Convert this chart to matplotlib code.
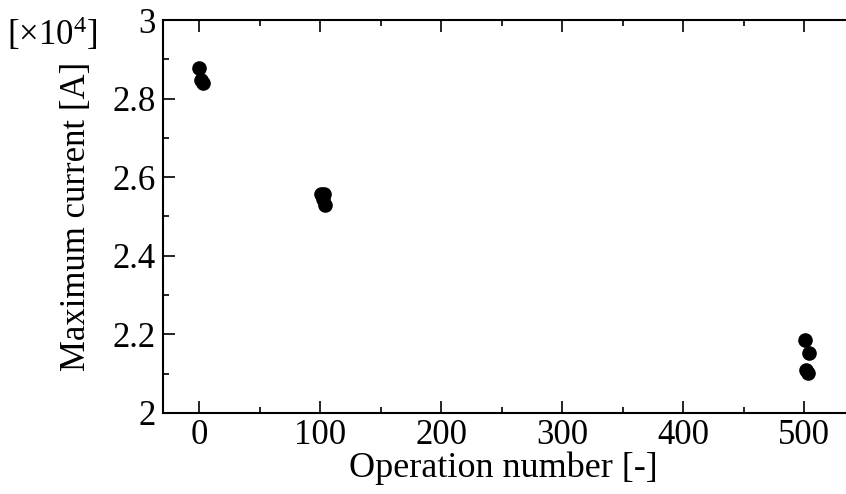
import matplotlib
matplotlib.use("Agg")
import matplotlib.pyplot as plt
from matplotlib.ticker import MultipleLocator, FormatStrFormatter

plt.rcParams['font.family'] = ['Liberation Serif', 'DejaVu Serif']
plt.rcParams['mathtext.fontset'] = 'custom'
plt.rcParams['mathtext.rm'] = 'Liberation Serif'
plt.rcParams['mathtext.default'] = 'regular'

# operation number and maximum current [x10^4 A]
op_num = [0, 1, 3, 101, 103, 102, 104, 501, 504, 502, 503]
i_max = [2.877, 2.848, 2.840, 2.556, 2.558, 2.545, 2.530, 2.185, 2.152, 2.109, 2.101]

fig = plt.figure(figsize=(8.46, 4.94), dpi=100)
ax = fig.add_axes([0.1927, 0.164, 0.822, 0.7955])

ax.plot(op_num, i_max, 'o', color='black', markersize=9.5, clip_on=False)

ax.set_xlim(-30, 545)
ax.set_ylim(2, 3)
ax.xaxis.set_major_locator(MultipleLocator(100))
ax.xaxis.set_minor_locator(MultipleLocator(50))
ax.yaxis.set_major_locator(MultipleLocator(0.2))
ax.yaxis.set_minor_locator(MultipleLocator(0.1))
ax.yaxis.set_major_formatter(FormatStrFormatter('%g'))

for s in ax.spines.values():
    s.set_linewidth(1.5)
ax.tick_params(which='both', direction='in', top=True, right=True, width=1.2, labelsize=25)
ax.tick_params(which='major', length=8.5)
ax.tick_params(which='minor', length=4.3)
ax.tick_params(axis='x', pad=4)
ax.tick_params(axis='y', pad=5)

ax.set_xlabel("Operation number [-]", fontsize=26)
ax.xaxis.set_label_coords(0.49, -0.098)
ax.set_ylabel("Maximum current [A]", fontsize=25)
ax.yaxis.set_label_coords(-0.1, 0.5)
fig.text(0.008, 0.93, r"[×10$^{4}$]", fontsize=25, ha='left', va='center')

fig.savefig("out.png", dpi=100)
